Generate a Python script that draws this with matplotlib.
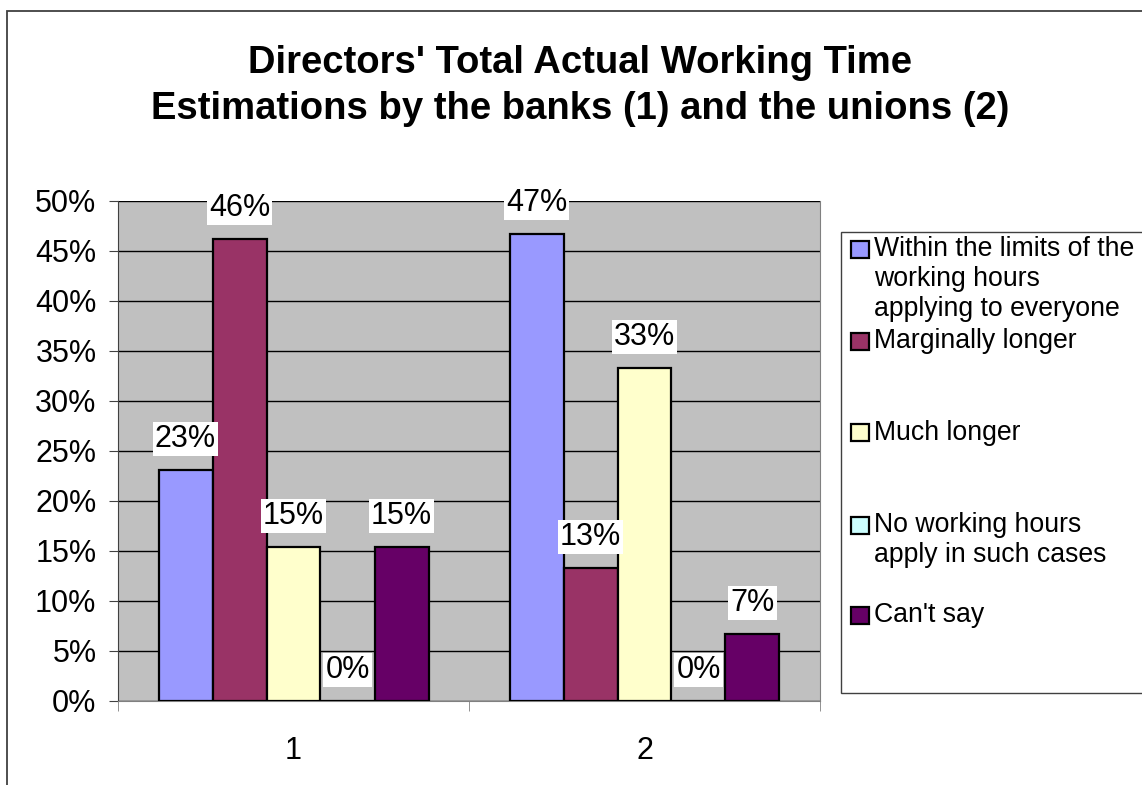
import numpy as np
import matplotlib
matplotlib.use('Agg')
from matplotlib import pyplot as plt
from matplotlib.patches import Rectangle
from matplotlib.ticker import FuncFormatter

plt.rcParams['font.family'] = ['Liberation Sans', 'DejaVu Sans']

# answer shares in percent, one list per respondent group
groups = ['1', '2']
answers = [
    'Within the limits of the\nworking hours\napplying to everyone',
    'Marginally longer',
    'Much longer',
    'No working hours\napply in such cases',
    "Can't say",
]
banks = [23.1, 46.2, 15.4, 0.0, 15.4]
unions = [46.7, 13.3, 33.3, 0.0, 6.7]
colors = ['#9999FF', '#993366', '#FFFFCC', '#CCFFFF', '#660066']

W, H = 1142, 785


def fx(px):
    return px / W


def fy(py):
    return 1 - py / H


fig = plt.figure(figsize=(W / 100, H / 100), dpi=100)
fig.patch.set_facecolor('white')

# outer chart frame
fig.patches.append(Rectangle((fx(7), fy(800)), fx(1160) - fx(7), fy(11) - fy(800),
                             transform=fig.transFigure, fill=False, ec='#404040', lw=1.3))

ax = fig.add_axes([fx(118), fy(701), fx(820) - fx(118), fy(201) - fy(701)])
ax.set_facecolor('#C0C0C0')

x = np.arange(1, len(groups) + 1)
width = 1 / 6.5
data = np.array([banks, unions]).T
for i, (vals, color) in enumerate(zip(data, colors)):
    pos = x + (i - 2) * width
    ax.bar(pos, vals, width, color=color, edgecolor='black', lw=1.6, zorder=3)
    for px_, v in zip(pos, vals):
        ax.annotate(f'{v:.0f}%', (px_, v), xytext=(0, 22.5), textcoords='offset points',
                    ha='center', va='center', fontsize=22, zorder=5,
                    bbox=dict(boxstyle='square,pad=0.07', fc='white', ec='none'))

ax.set_xlim(0.5, 2.5)
ax.set_ylim(0, 50)
ax.set_yticks(np.arange(0, 51, 5))
ax.yaxis.set_major_formatter(FuncFormatter(lambda v, p: f'{v:.0f}%'))
ax.yaxis.grid(True, color='black', lw=1)
ax.set_axisbelow(True)

ax.set_xticks(x)
ax.set_xticklabels(groups)
ax.set_xticks([0.5, 1.5, 2.5], minor=True)
ax.tick_params(axis='x', which='major', length=0, pad=25, labelsize=22)
ax.tick_params(axis='x', which='minor', length=7, color='#808080', direction='out')
ax.tick_params(axis='y', length=6.5, color='#404040', pad=9, labelsize=22)

for side in ['top', 'right', 'bottom']:
    ax.spines[side].set_color('#808080')
ax.spines['left'].set_color('#404040')
ax.spines['top'].set_visible(False)

fig.text(fx(580), fy(86), "Directors' Total Actual Working Time\nEstimations by the banks (1) and the unions (2)",
         ha='center', va='center', fontsize=27.5, fontweight='bold', linespacing=1.36)

# legend drawn by hand to keep the Excel-like spacing
fig.patches.append(Rectangle((fx(841), fy(693)), fx(1160) - fx(841), fy(232) - fy(693),
                             transform=fig.transFigure, fc='white', ec='#404040', lw=1))
centers = [249.5, 341.5, 432.5, 525.5, 615.5]
for label, color, cy in zip(answers, colors, centers):
    fig.patches.append(Rectangle((fx(851), fy(cy + 8.5)), fx(869) - fx(851), fy(cy - 8.5) - fy(cy + 8.5),
                                 transform=fig.transFigure, fc=color, ec='black', lw=1.6))
    for j, line in enumerate(label.split('\n')):
        fig.text(fx(874), fy(cy + 30 * j), line, ha='left', va='center', fontsize=19.2)

plt.savefig('out.png', dpi=100)
plt.close()
